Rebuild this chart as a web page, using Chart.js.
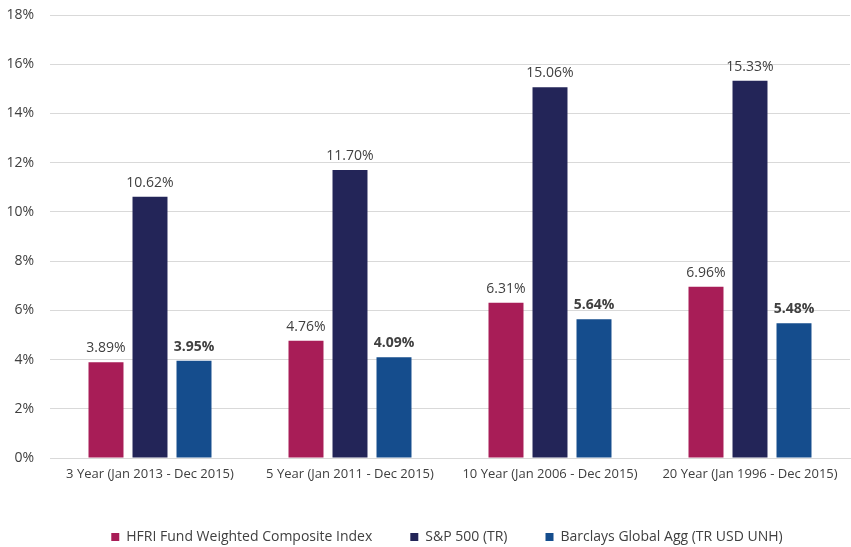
<!DOCTYPE html>
<html>
<head>
<meta charset="utf-8">
<script src="https://cdn.jsdelivr.net/npm/chart.js@4/dist/chart.umd.min.js"></script>
<style>
  html, body { margin: 0; padding: 0; background: #fff; }
  #wrap { width: 851px; height: 547px; }
</style>
</head>
<body>
<div id="wrap"><canvas id="returnsChart"></canvas></div>
<script>
// ── Data ──
const periods = [
  "3 Year (Jan 2013 - Dec 2015)",
  "5 Year (Jan 2011 - Dec 2015)",
  "10 Year (Jan 2006 - Dec 2015)",
  "20 Year (Jan 1996 - Dec 2015)"
];
const hfri = [3.89, 4.76, 6.31, 6.96];
const sp500 = [10.62, 11.70, 15.06, 15.33];
const barclays = [3.95, 4.09, 5.64, 5.48];
const yTicks = [0, 2, 4, 6, 8, 10, 12, 14, 16, 18];

const FONT = "'Open Sans', 'DejaVu Sans', sans-serif";
const TEXT = "#404040";

// ── Value labels above bars ──
const valueLabels = {
  id: "valueLabels",
  afterDatasetsDraw(chart) {
    const { ctx } = chart;
    ctx.save();
    chart.data.datasets.forEach((ds, i) => {
      const meta = chart.getDatasetMeta(i);
      ctx.font = `${ds.labelBold ? "bold " : ""}14px ${FONT}`;
      ctx.fillStyle = TEXT;
      ctx.textAlign = "center";
      ctx.textBaseline = "bottom";
      meta.data.forEach((bar, j) => {
        ctx.fillText(ds.data[j].toFixed(2) + "%", bar.x, bar.y - 7);
      });
    });
    ctx.restore();
  }
};

// legend: fixed height, then nudged down/right like the original
const legendTweak = {
  id: "legendTweak",
  beforeInit(chart) {
    const lg = chart.legend;
    const fit = lg.fit;
    lg.fit = function () { fit.call(this); this.height = 60; };
  },
  afterLayout(chart) {
    const lg = chart.legend;
    lg.top += 5; lg.bottom += 5;
    lg.left += 22; lg.right += 22;
  }
};

new Chart(document.getElementById("returnsChart"), {
  type: "bar",
  data: {
    labels: periods,
    datasets: [
      { label: "HFRI Fund Weighted Composite Index", data: hfri, backgroundColor: "#a81d57" },
      { label: "S&P 500 (TR)", data: sp500, backgroundColor: "#232558" },
      { label: "Barclays Global Agg (TR USD UNH)", data: barclays, backgroundColor: "#154d8d", labelBold: true },
    ]
  },
  options: {
    responsive: true,
    maintainAspectRatio: false,
    animation: false,
    devicePixelRatio: 1,
    categoryPercentage: 0.66,
    barPercentage: 0.795,
    layout: { padding: { top: 0, right: 1, left: 0, bottom: 0 } },
    plugins: {
      legend: {
        position: "bottom",
        labels: {
          color: TEXT,
          font: { family: FONT, size: 14 },
          boxWidth: 8,
          boxHeight: 8,
          padding: 38,
        }
      },
      tooltip: { enabled: false }
    },
    scales: {
      x: {
        grid: { display: false },
        border: { color: "#d9d9d9" },
        ticks: { color: TEXT, font: { family: FONT, size: 13 }, padding: 0, maxRotation: 0 },
        afterFit: scale => { scale.height = 29; }
      },
      y: {
        min: 0,
        max: 18,
        afterBuildTicks: scale => { scale.ticks = yTicks.map(v => ({ value: v })); },
        afterFit: scale => { scale.width = 50; scale.paddingTop = 15; scale.paddingBottom = 0; },
        grid: { color: "#d9d9d9", drawTicks: false },
        border: { display: false },
        ticks: {
          color: TEXT,
          font: { family: FONT, size: 14 },
          padding: 16,
          callback: v => v + "%"
        }
      }
    }
  },
  plugins: [valueLabels, legendTweak]
});
</script>
</body>
</html>
